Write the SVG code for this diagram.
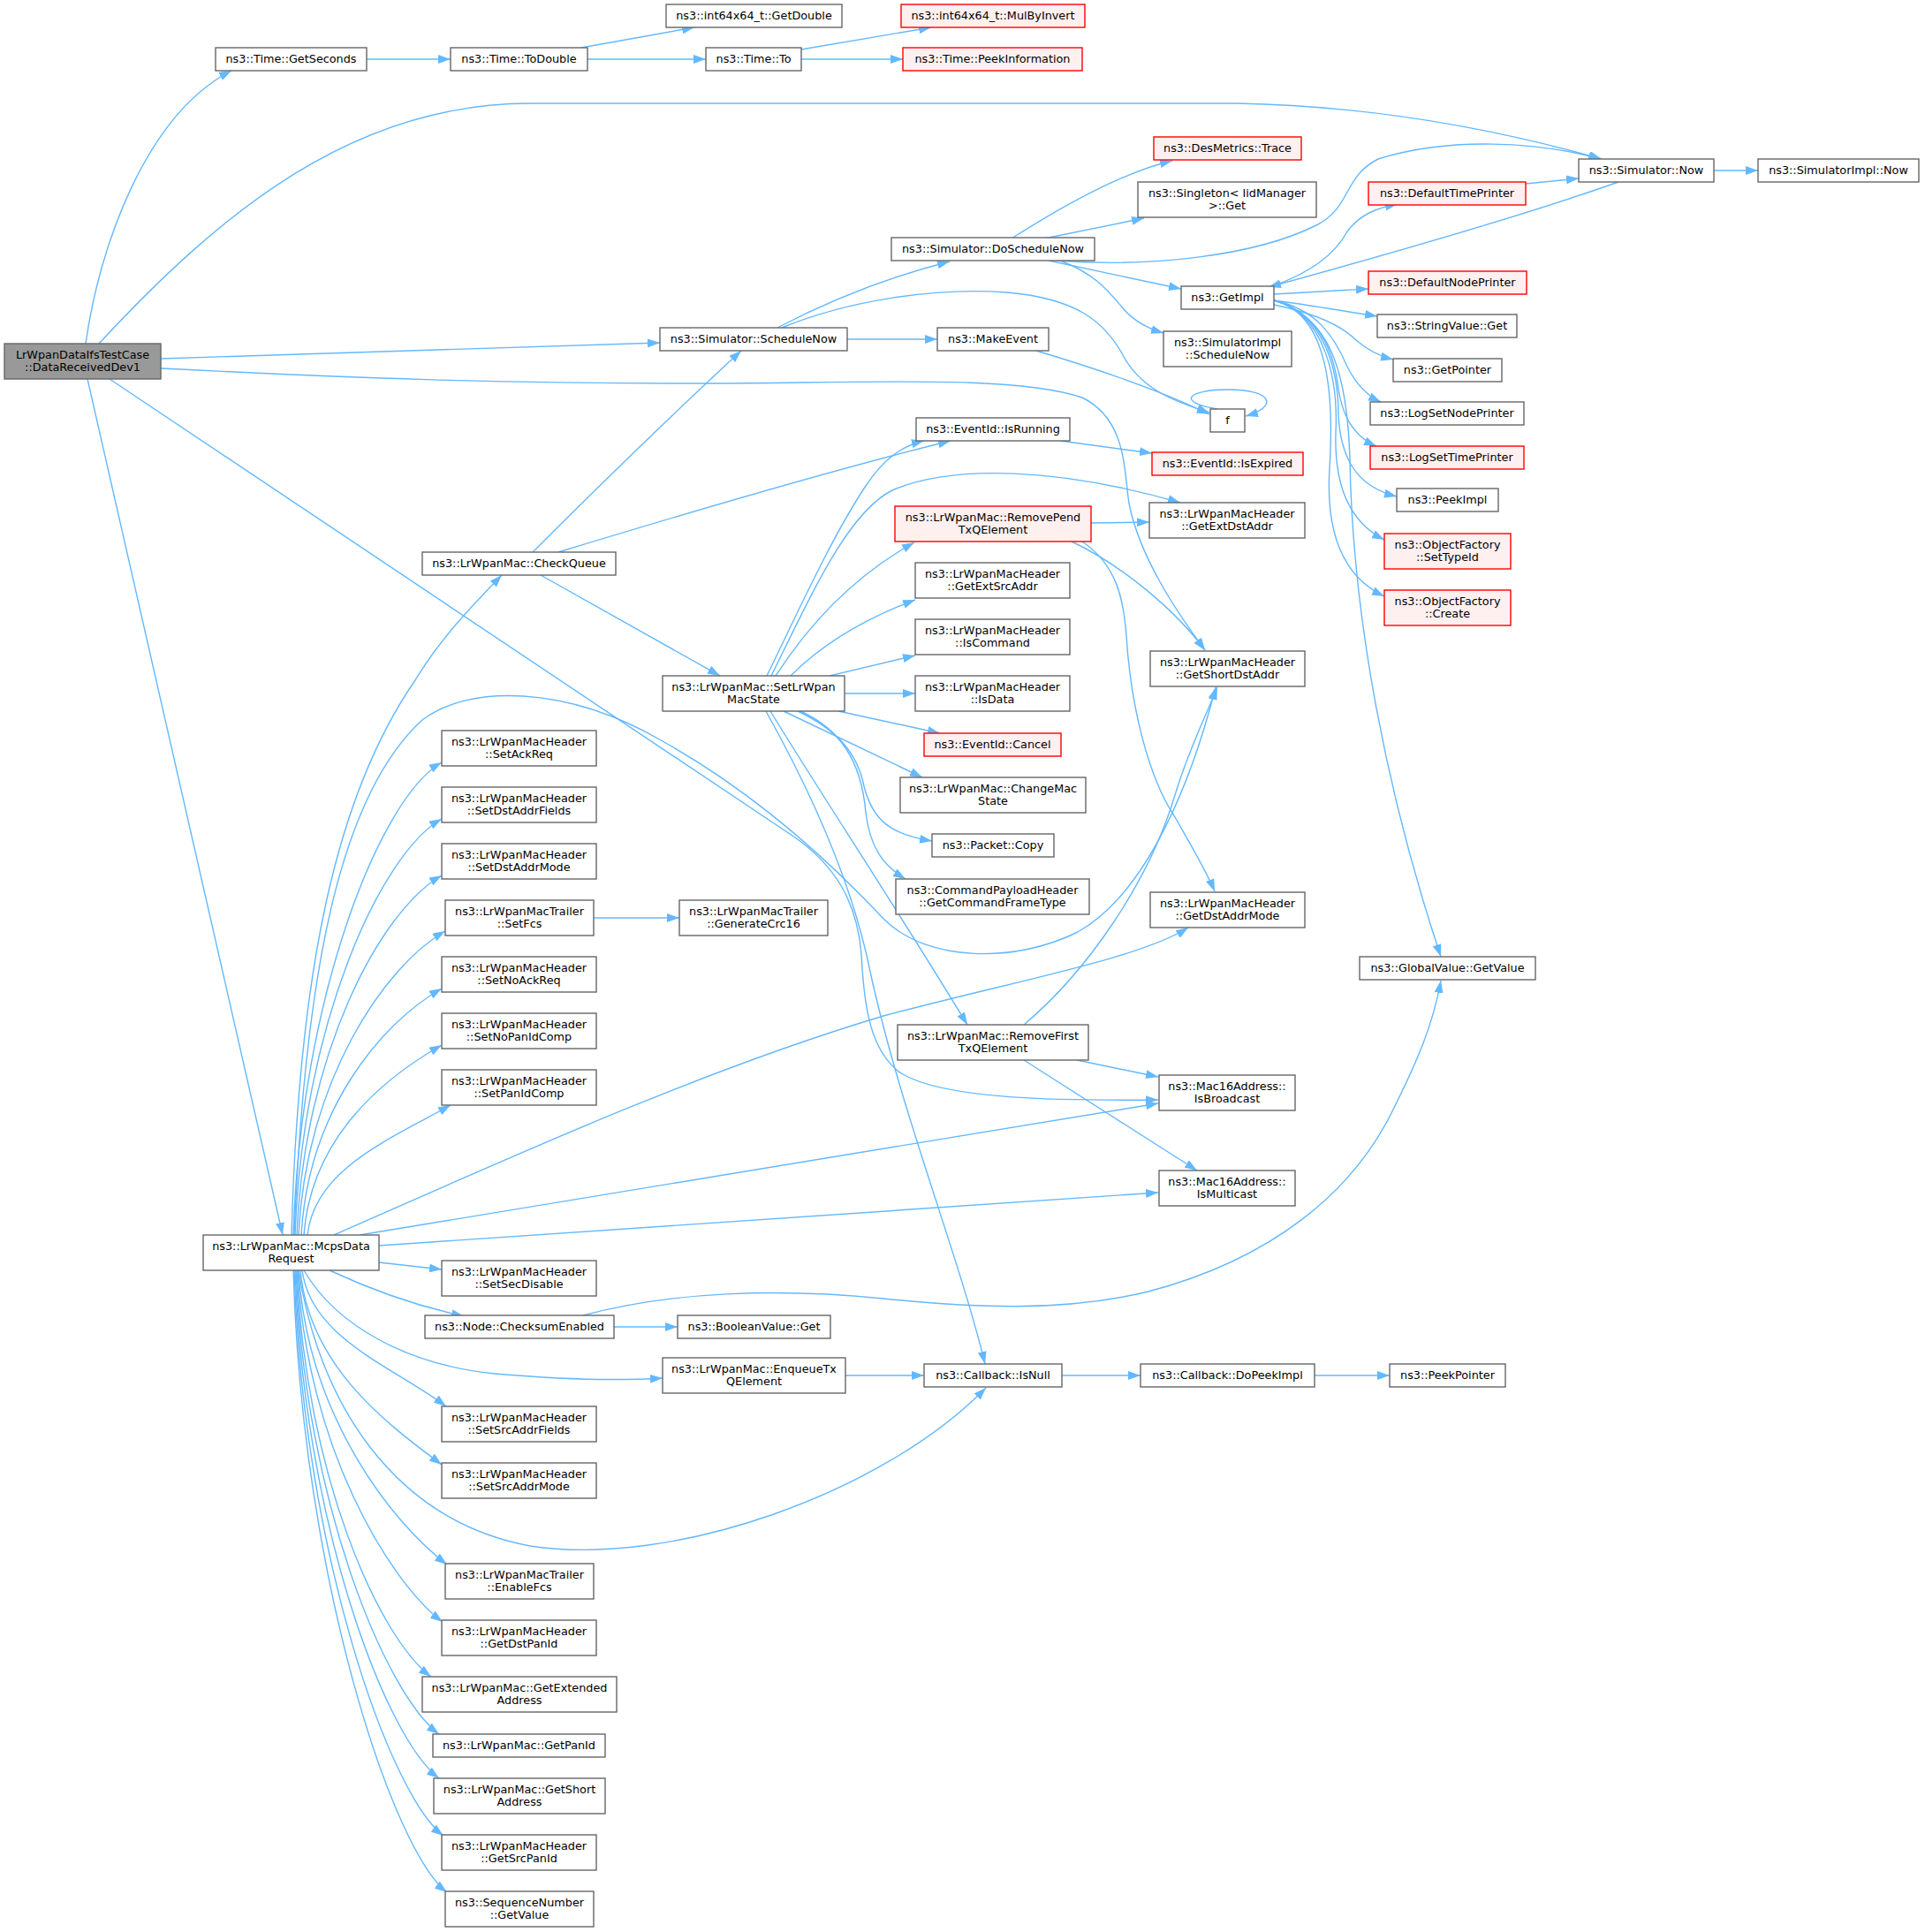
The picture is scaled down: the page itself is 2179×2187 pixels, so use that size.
<svg xmlns="http://www.w3.org/2000/svg" width="2179" height="2187" viewBox="0 0 2179 2187">
<defs>
<style>
.n rect{fill:#ffffff;stroke:#666666;stroke-width:1.4}
.r rect{fill:#fff0f0;stroke:#ff0000;stroke-width:1.4}
.root rect{fill:#999999;stroke:#666666;stroke-width:1.4}
text{font-family:"DejaVu Sans","Liberation Sans",sans-serif;font-size:12.8px;text-anchor:middle;fill:#000000}
#edges path{fill:none;stroke:#63b8ff;stroke-width:1.4;marker-end:url(#ah)}
</style>
<marker id="ah" viewBox="0 0 14 10" refX="14" refY="5" markerWidth="14" markerHeight="10" markerUnits="userSpaceOnUse" orient="auto"><path d="M0,0L14,5L0,10z" fill="#63b8ff" stroke="none"/></marker>
</defs>
<rect width="2179" height="2187" fill="#ffffff"/>
<g id="edges">
<path d="M97,389 C112,280 165,130 262,80"/>
<path d="M112,389 C250,240 400,117 600,117 L1400,117 C1560,120 1700,148 1813,180"/>
<path d="M182,406 L747,388"/>
<path d="M182,417 C400,428 560,434 800,434 C1000,433 1150,425 1225,450 C1275,475 1272,530 1278,570 C1290,630 1330,690 1364,736"/>
<path d="M124,429 L900,948 C945,980 970,1020 975,1080 C978,1140 985,1190 1020,1215 C1070,1245 1200,1246 1311,1245"/>
<path d="M99,429 L320,1398"/>
<path d="M415,67 L510,67"/>
<path d="M658,54 L786,31"/>
<path d="M665,67 L799,67"/>
<path d="M907,56 L1054,31"/>
<path d="M907,67 L1022,67"/>
<path d="M880,371 C930,345 1000,315 1075,296"/>
<path d="M959,384 L1061,384"/>
<path d="M885,371 C960,340 1060,325 1140,331 C1220,338 1250,365 1270,400 C1290,440 1330,455 1369,467"/>
<path d="M1173,397 C1250,420 1320,445 1369,469"/>
<path d="M1378,463 C1330,455 1345,441 1390,441 C1440,441 1448,460 1410,471"/>
<path d="M1145,270 C1200,235 1270,195 1327,182"/>
<path d="M1182,270 L1295,247"/>
<path d="M1197,295 C1300,303 1420,290 1490,255 C1530,235 1520,200 1560,180 C1640,155 1740,160 1812,180"/>
<path d="M1187,295 L1337,327"/>
<path d="M1200,295 C1240,310 1255,330 1272,350 C1285,365 1300,372 1317,377"/>
<path d="M1940,193 L1990,193"/>
<path d="M1727,208 L1787,202"/>
<path d="M1832,206 C1750,235 1600,280 1436,325"/>
<path d="M1440,324 C1480,310 1510,290 1525,262 C1540,242 1560,235 1582,231"/>
<path d="M1442,333 L1549,327"/>
<path d="M1442,340 C1480,345 1520,352 1559,358"/>
<path d="M1442,345 C1490,355 1520,370 1535,385 C1550,398 1565,404 1577,407"/>
<path d="M1442,340 C1490,350 1510,380 1525,415 C1535,435 1548,448 1563,455"/>
<path d="M1442,340 C1495,355 1510,400 1515,440 C1520,475 1535,495 1558,505"/>
<path d="M1442,340 C1500,355 1515,420 1515,470 C1518,530 1545,553 1581,562"/>
<path d="M1442,340 C1500,355 1515,430 1512,490 C1510,560 1535,595 1567,611"/>
<path d="M1442,340 C1505,355 1510,450 1505,530 C1500,610 1525,655 1567,675"/>
<path d="M1442,340 C1505,358 1525,420 1528,520 C1531,700 1570,900 1631,1083"/>
<path d="M1200,499 L1304,513"/>
<path d="M603,625 C680,548 760,470 839,397"/>
<path d="M632,625 C780,580 950,530 1076,499"/>
<path d="M612,651 L815,765"/>
<path d="M330,1398 C338,1100 380,900 470,770 C500,720 540,680 568,651"/>
<path d="M868,765 C900,700 940,610 980,550 C1000,520 1020,505 1046,499"/>
<path d="M873,765 C920,670 960,580 1010,555 C1080,525 1200,530 1336,569"/>
<path d="M878,765 C920,700 970,650 1035,614"/>
<path d="M895,765 C930,730 980,700 1036,679"/>
<path d="M939,765 L1036,742"/>
<path d="M956,785 L1036,785"/>
<path d="M949,805 L1064,830"/>
<path d="M887,805 L1044,880"/>
<path d="M903,805 C945,825 970,850 978,890 C988,930 1010,945 1055,952"/>
<path d="M906,805 C950,825 975,860 980,920 C985,960 1000,980 1025,995"/>
<path d="M872,805 C930,900 1010,1020 1095,1160"/>
<path d="M867,805 C920,900 965,1000 985,1100 C1020,1260 1085,1420 1115,1544"/>
<path d="M1235,592 L1301,591"/>
<path d="M1213,613 C1270,640 1330,690 1364,736"/>
<path d="M1225,613 C1265,640 1272,680 1275,720 C1280,800 1300,880 1330,925 C1350,960 1365,985 1375,1009"/>
<path d="M1159,1160 C1230,1100 1300,1000 1330,900 C1345,850 1365,810 1378,778"/>
<path d="M1219,1200 L1311,1219"/>
<path d="M1159,1200 L1355,1325"/>
<path d="M332,1398 C340,1130 430,903 500,863"/>
<path d="M334,1398 C342,1162 430,967 500,927"/>
<path d="M336,1398 C344,1194 430,1031 500,991"/>
<path d="M338,1398 C346,1226 434,1094 504,1054"/>
<path d="M341,1398 C349,1258 430,1159 500,1119"/>
<path d="M344,1398 C352,1290 430,1223 500,1183"/>
<path d="M348,1398 C356,1324 440,1290 510,1251"/>
<path d="M333,1398 C345,1100 385,900 478,815 C530,775 640,775 750,839 C850,895 930,965 1000,1040 C1050,1090 1150,1090 1220,1055 C1300,1010 1350,880 1376,778"/>
<path d="M378,1398 C600,1300 800,1210 1000,1150 C1150,1110 1290,1085 1345,1050"/>
<path d="M407,1398 L1311,1249"/>
<path d="M429,1410 L1311,1350"/>
<path d="M429,1429 L500,1437"/>
<path d="M373,1438 C420,1460 470,1478 525,1490"/>
<path d="M695,1502 L767,1502"/>
<path d="M660,1489 C760,1462 880,1458 1000,1470 C1100,1480 1200,1486 1300,1462 C1440,1425 1530,1350 1575,1260 C1605,1200 1622,1160 1631,1110"/>
<path d="M344,1438 C380,1500 460,1545 560,1555 C640,1562 700,1563 750,1560"/>
<path d="M957,1557 L1046,1557"/>
<path d="M338,1438 C360,1580 440,1720 600,1750 C760,1775 1000,1690 1116,1571"/>
<path d="M1202,1557 L1291,1557"/>
<path d="M1488,1557 L1573,1557"/>
<path d="M672,1039 L769,1039"/>
<path d="M342,1438 C352,1515 445,1547 505,1592"/>
<path d="M340,1438 C350,1548 440,1613 500,1658"/>
<path d="M338,1438 C348,1604 446,1726 506,1771"/>
<path d="M337,1438 C347,1637 441,1791 501,1836"/>
<path d="M336,1438 C346,1668 428,1853 488,1898"/>
<path d="M335,1438 C345,1700 437,1918 497,1963"/>
<path d="M334,1438 C344,1725 437,1968 497,2013"/>
<path d="M333,1438 C343,1758 442,2033 502,2078"/>
<path d="M332,1438 C342,1790 446,2097 506,2142"/>
</g>
<g id="n0" class="root"><rect x="5" y="389" width="177" height="40"/><text x="93.5" y="405.5">LrWpanDataIfsTestCase<tspan x="93.5" dy="14.5">::DataReceivedDev1</tspan></text></g>
<g id="n_getseconds" class="n"><rect x="244" y="54" width="171" height="26"/><text x="329.5" y="71">ns3::Time::GetSeconds</text></g>
<g id="n_todouble" class="n"><rect x="510" y="54" width="155" height="26"/><text x="587.5" y="71">ns3::Time::ToDouble</text></g>
<g id="n_getdouble" class="n"><rect x="754" y="5" width="199" height="26"/><text x="853.5" y="22">ns3::int64x64_t::GetDouble</text></g>
<g id="n_timeto" class="n"><rect x="799" y="54" width="108" height="26"/><text x="853" y="71">ns3::Time::To</text></g>
<g id="n_mulbyinvert" class="r"><rect x="1020" y="5" width="208" height="26"/><text x="1124" y="22">ns3::int64x64_t::MulByInvert</text></g>
<g id="n_peekinformation" class="r"><rect x="1022" y="54" width="203" height="26"/><text x="1123.5" y="71">ns3::Time::PeekInformation</text></g>
<g id="n_simnow" class="n"><rect x="1787" y="180" width="153" height="26"/><text x="1863.5" y="197">ns3::Simulator::Now</text></g>
<g id="n_simimplnow" class="n"><rect x="1990" y="180" width="182" height="26"/><text x="2081" y="197">ns3::SimulatorImpl::Now</text></g>
<g id="n_desmetrics" class="r"><rect x="1306" y="155" width="167" height="26"/><text x="1389.5" y="172">ns3::DesMetrics::Trace</text></g>
<g id="n_singleton" class="n"><rect x="1288" y="206" width="202" height="40"/><text x="1389" y="222.5">ns3::Singleton&lt; IidManager<tspan x="1389" dy="14.5">&gt;::Get</tspan></text></g>
<g id="n_doschedulenow" class="n"><rect x="1009" y="269" width="230" height="26"/><text x="1124" y="286">ns3::Simulator::DoScheduleNow</text></g>
<g id="n_defaulttimeprinter" class="r"><rect x="1549" y="206" width="178" height="26"/><text x="1638" y="223">ns3::DefaultTimePrinter</text></g>
<g id="n_getimpl" class="n"><rect x="1337" y="324" width="105" height="26"/><text x="1389.5" y="341">ns3::GetImpl</text></g>
<g id="n_defaultnodeprinter" class="r"><rect x="1549" y="307" width="179" height="26"/><text x="1638.5" y="324">ns3::DefaultNodePrinter</text></g>
<g id="n_stringvalueget" class="n"><rect x="1559" y="356" width="158" height="26"/><text x="1638" y="373">ns3::StringValue::Get</text></g>
<g id="n_getpointer" class="n"><rect x="1577" y="406" width="123" height="26"/><text x="1638.5" y="423">ns3::GetPointer</text></g>
<g id="n_logsetnodeprinter" class="n"><rect x="1551" y="455" width="174" height="26"/><text x="1638" y="472">ns3::LogSetNodePrinter</text></g>
<g id="n_logsettimeprinter" class="r"><rect x="1551" y="505" width="174" height="26"/><text x="1638" y="522">ns3::LogSetTimePrinter</text></g>
<g id="n_peekimpl" class="n"><rect x="1581" y="553" width="115" height="26"/><text x="1638.5" y="570">ns3::PeekImpl</text></g>
<g id="n_settypeid" class="r"><rect x="1567" y="604" width="143" height="40"/><text x="1638.5" y="620.5">ns3::ObjectFactory<tspan x="1638.5" dy="14.5">::SetTypeId</tspan></text></g>
<g id="n_create" class="r"><rect x="1567" y="668" width="143" height="40"/><text x="1638.5" y="684.5">ns3::ObjectFactory<tspan x="1638.5" dy="14.5">::Create</tspan></text></g>
<g id="n_simimplschedulenow" class="n"><rect x="1317" y="375" width="145" height="40"/><text x="1389.5" y="391.5">ns3::SimulatorImpl<tspan x="1389.5" dy="14.5">::ScheduleNow</tspan></text></g>
<g id="n_schedulenow" class="n"><rect x="747" y="371" width="212" height="26"/><text x="853" y="388">ns3::Simulator::ScheduleNow</text></g>
<g id="n_makeevent" class="n"><rect x="1061" y="371" width="126" height="26"/><text x="1124" y="388">ns3::MakeEvent</text></g>
<g id="n_f" class="n"><rect x="1370" y="463" width="39" height="26"/><text x="1389.5" y="480">f</text></g>
<g id="n_isrunning" class="n"><rect x="1037" y="473" width="174" height="26"/><text x="1124" y="490">ns3::EventId::IsRunning</text></g>
<g id="n_isexpired" class="r"><rect x="1304" y="512" width="171" height="26"/><text x="1389.5" y="529">ns3::EventId::IsExpired</text></g>
<g id="n_getextdstaddr" class="n"><rect x="1301" y="569" width="176" height="40"/><text x="1389" y="585.5">ns3::LrWpanMacHeader<tspan x="1389" dy="14.5">::GetExtDstAddr</tspan></text></g>
<g id="n_removepend" class="r"><rect x="1013" y="573" width="222" height="40"/><text x="1124" y="589.5">ns3::LrWpanMac::RemovePend<tspan x="1124" dy="14.5">TxQElement</tspan></text></g>
<g id="n_checkqueue" class="n"><rect x="478" y="625" width="219" height="26"/><text x="587.5" y="642">ns3::LrWpanMac::CheckQueue</text></g>
<g id="n_getextsrcaddr" class="n"><rect x="1036" y="637" width="175" height="40"/><text x="1123.5" y="653.5">ns3::LrWpanMacHeader<tspan x="1123.5" dy="14.5">::GetExtSrcAddr</tspan></text></g>
<g id="n_iscommand" class="n"><rect x="1036" y="701" width="175" height="40"/><text x="1123.5" y="717.5">ns3::LrWpanMacHeader<tspan x="1123.5" dy="14.5">::IsCommand</tspan></text></g>
<g id="n_getshortdstaddr" class="n"><rect x="1302" y="737" width="175" height="40"/><text x="1389.5" y="753.5">ns3::LrWpanMacHeader<tspan x="1389.5" dy="14.5">::GetShortDstAddr</tspan></text></g>
<g id="n_setlrwpanmacstate" class="n"><rect x="750" y="765" width="206" height="40"/><text x="853" y="781.5">ns3::LrWpanMac::SetLrWpan<tspan x="853" dy="14.5">MacState</tspan></text></g>
<g id="n_isdata" class="n"><rect x="1036" y="765" width="175" height="40"/><text x="1123.5" y="781.5">ns3::LrWpanMacHeader<tspan x="1123.5" dy="14.5">::IsData</tspan></text></g>
<g id="n_cancel" class="r"><rect x="1046" y="830" width="155" height="26"/><text x="1123.5" y="847">ns3::EventId::Cancel</text></g>
<g id="n_changemacstate" class="n"><rect x="1019" y="880" width="210" height="40"/><text x="1124" y="896.5">ns3::LrWpanMac::ChangeMac<tspan x="1124" dy="14.5">State</tspan></text></g>
<g id="n_packetcopy" class="n"><rect x="1055" y="944" width="138" height="26"/><text x="1124" y="961">ns3::Packet::Copy</text></g>
<g id="n_getcommandframetype" class="n"><rect x="1014" y="995" width="219" height="40"/><text x="1123.5" y="1011.5">ns3::CommandPayloadHeader<tspan x="1123.5" dy="14.5">::GetCommandFrameType</tspan></text></g>
<g id="n_getdstaddrmode" class="n"><rect x="1302" y="1010" width="175" height="40"/><text x="1389.5" y="1026.5">ns3::LrWpanMacHeader<tspan x="1389.5" dy="14.5">::GetDstAddrMode</tspan></text></g>
<g id="n_globalvaluegetvalue" class="n"><rect x="1539" y="1083" width="199" height="26"/><text x="1638.5" y="1100">ns3::GlobalValue::GetValue</text></g>
<g id="n_removefirst" class="n"><rect x="1016" y="1160" width="216" height="40"/><text x="1124" y="1176.5">ns3::LrWpanMac::RemoveFirst<tspan x="1124" dy="14.5">TxQElement</tspan></text></g>
<g id="n_isbroadcast" class="n"><rect x="1312" y="1217" width="154" height="40"/><text x="1389" y="1233.5">ns3::Mac16Address::<tspan x="1389" dy="14.5">IsBroadcast</tspan></text></g>
<g id="n_ismulticast" class="n"><rect x="1312" y="1325" width="154" height="40"/><text x="1389" y="1341.5">ns3::Mac16Address::<tspan x="1389" dy="14.5">IsMulticast</tspan></text></g>
<g id="n_setackreq" class="n"><rect x="500" y="827" width="175" height="40"/><text x="587.5" y="843.5">ns3::LrWpanMacHeader<tspan x="587.5" dy="14.5">::SetAckReq</tspan></text></g>
<g id="n_setdstaddrfields" class="n"><rect x="500" y="891" width="175" height="40"/><text x="587.5" y="907.5">ns3::LrWpanMacHeader<tspan x="587.5" dy="14.5">::SetDstAddrFields</tspan></text></g>
<g id="n_setdstaddrmode" class="n"><rect x="500" y="955" width="175" height="40"/><text x="587.5" y="971.5">ns3::LrWpanMacHeader<tspan x="587.5" dy="14.5">::SetDstAddrMode</tspan></text></g>
<g id="n_setfcs" class="n"><rect x="504" y="1019" width="168" height="40"/><text x="588" y="1035.5">ns3::LrWpanMacTrailer<tspan x="588" dy="14.5">::SetFcs</tspan></text></g>
<g id="n_generatecrc16" class="n"><rect x="769" y="1019" width="168" height="40"/><text x="853" y="1035.5">ns3::LrWpanMacTrailer<tspan x="853" dy="14.5">::GenerateCrc16</tspan></text></g>
<g id="n_setnoackreq" class="n"><rect x="500" y="1083" width="175" height="40"/><text x="587.5" y="1099.5">ns3::LrWpanMacHeader<tspan x="587.5" dy="14.5">::SetNoAckReq</tspan></text></g>
<g id="n_setnopanidcomp" class="n"><rect x="500" y="1147" width="175" height="40"/><text x="587.5" y="1163.5">ns3::LrWpanMacHeader<tspan x="587.5" dy="14.5">::SetNoPanIdComp</tspan></text></g>
<g id="n_setpanidcomp" class="n"><rect x="500" y="1211" width="175" height="40"/><text x="587.5" y="1227.5">ns3::LrWpanMacHeader<tspan x="587.5" dy="14.5">::SetPanIdComp</tspan></text></g>
<g id="n_mcpsdatarequest" class="n"><rect x="230" y="1398" width="199" height="40"/><text x="329.5" y="1414.5">ns3::LrWpanMac::McpsData<tspan x="329.5" dy="14.5">Request</tspan></text></g>
<g id="n_setsecdisable" class="n"><rect x="500" y="1427" width="175" height="40"/><text x="587.5" y="1443.5">ns3::LrWpanMacHeader<tspan x="587.5" dy="14.5">::SetSecDisable</tspan></text></g>
<g id="n_checksumenabled" class="n"><rect x="481" y="1489" width="214" height="26"/><text x="588" y="1506">ns3::Node::ChecksumEnabled</text></g>
<g id="n_booleanvalueget" class="n"><rect x="767" y="1489" width="173" height="26"/><text x="853.5" y="1506">ns3::BooleanValue::Get</text></g>
<g id="n_enqueuetx" class="n"><rect x="750" y="1537" width="207" height="40"/><text x="853.5" y="1553.5">ns3::LrWpanMac::EnqueueTx<tspan x="853.5" dy="14.5">QElement</tspan></text></g>
<g id="n_isnull" class="n"><rect x="1046" y="1544" width="156" height="26"/><text x="1124" y="1561">ns3::Callback::IsNull</text></g>
<g id="n_dopeekimpl" class="n"><rect x="1291" y="1544" width="197" height="26"/><text x="1389.5" y="1561">ns3::Callback::DoPeekImpl</text></g>
<g id="n_peekpointer" class="n"><rect x="1573" y="1544" width="131" height="26"/><text x="1638.5" y="1561">ns3::PeekPointer</text></g>
<g id="n_setsrcaddrfields" class="n"><rect x="500" y="1592" width="175" height="40"/><text x="587.5" y="1608.5">ns3::LrWpanMacHeader<tspan x="587.5" dy="14.5">::SetSrcAddrFields</tspan></text></g>
<g id="n_setsrcaddrmode" class="n"><rect x="500" y="1656" width="175" height="40"/><text x="587.5" y="1672.5">ns3::LrWpanMacHeader<tspan x="587.5" dy="14.5">::SetSrcAddrMode</tspan></text></g>
<g id="n_enablefcs" class="n"><rect x="504" y="1770" width="168" height="40"/><text x="588" y="1786.5">ns3::LrWpanMacTrailer<tspan x="588" dy="14.5">::EnableFcs</tspan></text></g>
<g id="n_getdstpanid" class="n"><rect x="500" y="1834" width="175" height="40"/><text x="587.5" y="1850.5">ns3::LrWpanMacHeader<tspan x="587.5" dy="14.5">::GetDstPanId</tspan></text></g>
<g id="n_getextendedaddress" class="n"><rect x="478" y="1898" width="220" height="40"/><text x="588" y="1914.5">ns3::LrWpanMac::GetExtended<tspan x="588" dy="14.5">Address</tspan></text></g>
<g id="n_getpanid" class="n"><rect x="490" y="1963" width="195" height="26"/><text x="587.5" y="1980">ns3::LrWpanMac::GetPanId</text></g>
<g id="n_getshortaddress" class="n"><rect x="491" y="2013" width="194" height="40"/><text x="588" y="2029.5">ns3::LrWpanMac::GetShort<tspan x="588" dy="14.5">Address</tspan></text></g>
<g id="n_getsrcpanid" class="n"><rect x="500" y="2077" width="175" height="40"/><text x="587.5" y="2093.5">ns3::LrWpanMacHeader<tspan x="587.5" dy="14.5">::GetSrcPanId</tspan></text></g>
<g id="n_seqnumgetvalue" class="n"><rect x="504" y="2141" width="168" height="40"/><text x="588" y="2157.5">ns3::SequenceNumber<tspan x="588" dy="14.5">::GetValue</tspan></text></g>
</svg>
